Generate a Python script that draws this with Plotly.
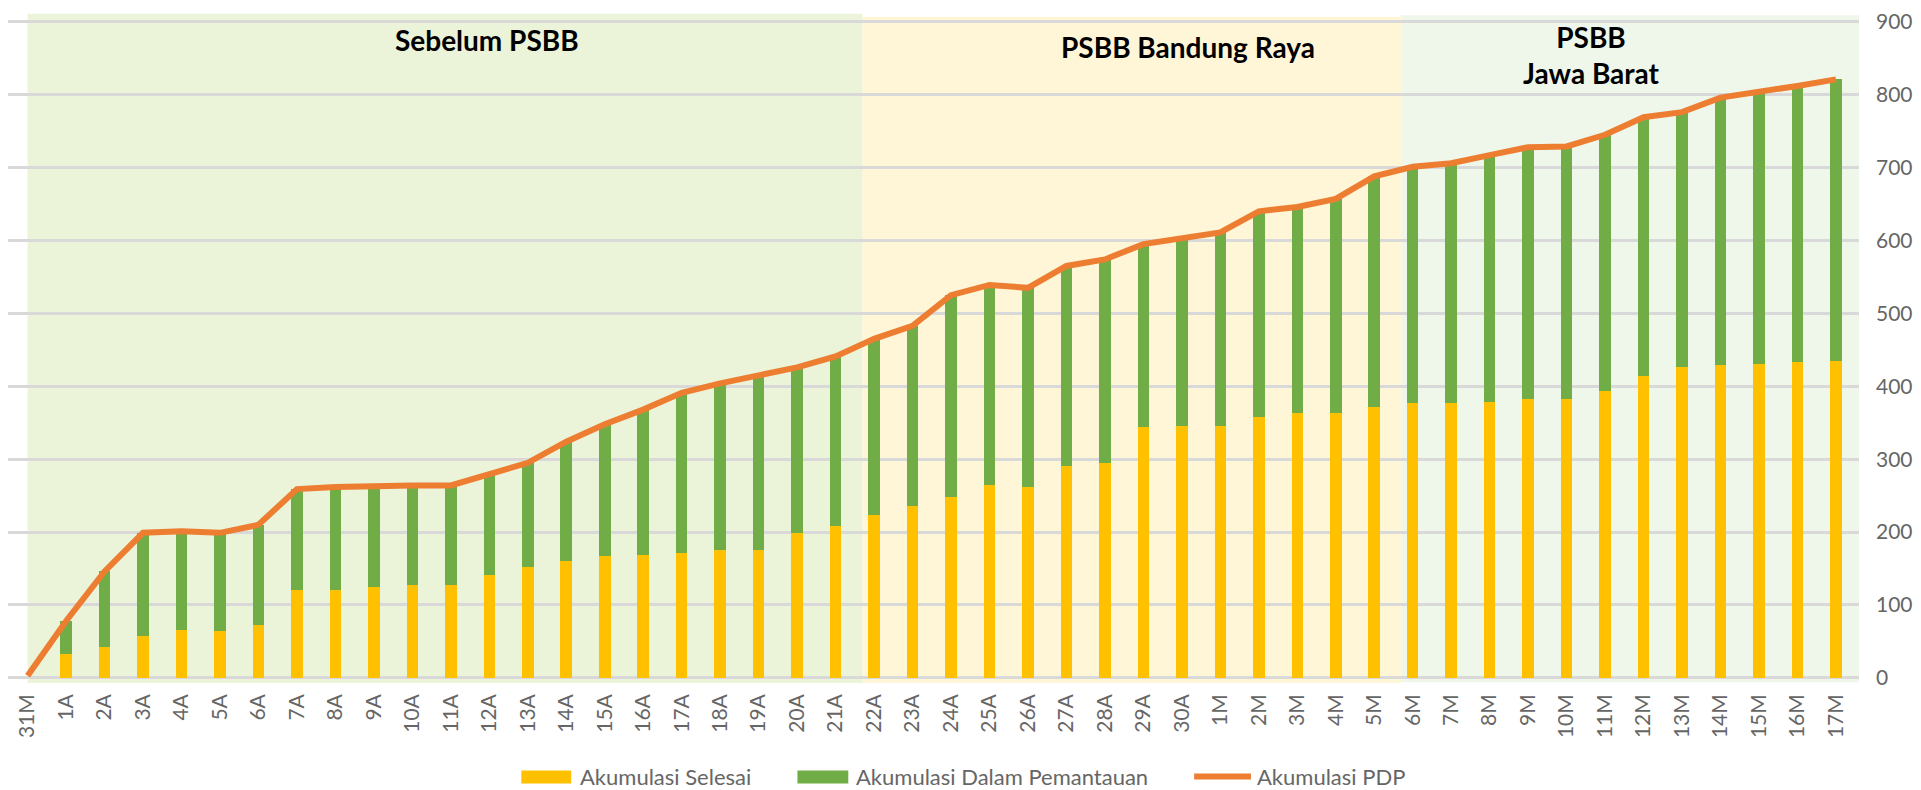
import plotly.graph_objects as go

categories = ["31M"] + [f"{d}A" for d in range(1, 31)] + [f"{d}M" for d in range(1, 18)]

selesai = [0, 33, 42, 57, 66, 64, 73, 120, 120, 124, 127, 127, 141, 152, 160, 167, 169,
           172, 176, 176, 199, 209, 223, 236, 248, 265, 262, 291, 295, 344, 346,
           346, 358, 363, 363, 372, 377, 377, 379, 383, 383, 393, 414, 426, 429, 431, 433, 435]

dalam = [0, 45, 104, 142, 135, 135, 137, 139, 142, 140, 137, 137, 139, 143, 164, 181, 199,
         219, 228, 239, 227, 232, 242, 247, 277, 274, 273, 274, 279, 251, 256,
         265, 282, 283, 294, 316, 324, 329, 338, 345, 346, 352, 355, 350, 367, 372, 379, 386]

pdp = [3, 78, 146, 199, 201, 199, 210, 259, 262, 264, 264, 264, 280, 295, 324, 348, 368,
       391, 404, 415, 426, 441, 465, 483, 525, 539, 535, 565, 574, 595, 602,
       611, 640, 646, 657, 688, 701, 706, 717, 728, 729, 745, 769, 776, 796, 803, 812, 821]

series_names = ["Akumulasi Selesai", "Akumulasi Dalam Pemantauan", "Akumulasi PDP"]
phase_labels = ["Sebelum PSBB", "PSBB Bandung Raya", "PSBB<br>Jawa Barat"]
phase_bounds = [(0, 21.7), (21.7, 35.7), (35.7, 47.6)]
y_ticks = [0, 100, 200, 300, 400, 500, 600, 700, 800, 900]

YELLOW = "#FFC000"
GREEN = "#70AD47"
ORANGE = "#ED7D31"
FONT = "Lato"
AXIS_COLOR = "#666666"

W, H = 1921, 790
L, R, T, B = 8, 56, 9, 107

fig = go.Figure()
fig.add_trace(go.Bar(x=categories, y=selesai, name=series_names[0], marker_color=YELLOW,
                     marker_line_width=0, width=0.3))
fig.add_trace(go.Bar(x=categories, y=dalam, name=series_names[1], marker_color=GREEN,
                     marker_line_width=0, width=0.3))
fig.add_trace(go.Scatter(x=categories, y=pdp, name=series_names[2], mode="lines",
                         line=dict(color=ORANGE, width=6)))

band_colors = ["#EBF3D8", "#FFF5D7", "#EFF7EA"]
band_tops = [911, 907, 909]
band_bottoms = [-7, -7, -6]
shapes = []
for (x0, x1), c, yt, yb in zip(phase_bounds, band_colors, band_tops, band_bottoms):
    shapes.append(dict(type="rect", xref="x", yref="y", x0=x0, x1=x1, y0=yb, y1=yt,
                       fillcolor=c, line_width=0, layer="below"))

annotations = []
label_pos = [(11.94, 875), (30.16, 865), (40.65, 855)]
for txt, (ax, ay) in zip(phase_labels, label_pos):
    annotations.append(dict(x=ax, y=ay, xref="x", yref="y", text=f"<b>{txt}</b>",
                            showarrow=False, font=dict(family=FONT, size=28, color="#000000"),
                            xanchor="center", yanchor="middle"))

# manual legend (pixel positions converted to paper coords)
def px_x(p):
    return (p - L) / (W - L - R)

def px_y(p):
    return (H - B - p) / (H - T - B)

leg_y = 777
legend_items = [(523, 573, 580, "rect", YELLOW), (800, 851, 857, "rect", GREEN),
                (1198, 1255, 1259, "line", ORANGE)]
for (x0, x1, tx, kind, col), name in zip(legend_items, series_names):
    if kind == "rect":
        shapes.append(dict(type="rect", xref="paper", yref="paper", x0=px_x(x0), x1=px_x(x1),
                           y0=px_y(784), y1=px_y(771), fillcolor=col, line_width=0))
    else:
        shapes.append(dict(type="line", xref="paper", yref="paper", x0=px_x(x0), x1=px_x(x1),
                           y0=px_y(leg_y), y1=px_y(leg_y), line=dict(color=col, width=6)))
    annotations.append(dict(x=px_x(tx), y=px_y(leg_y), xref="paper", yref="paper", text=name,
                            showarrow=False, xanchor="left", yanchor="middle",
                            font=dict(family=FONT, size=22, color=AXIS_COLOR)))

fig.update_layout(
    width=W, height=H,
    margin=dict(l=L, r=R, t=T, b=B, pad=0),
    barmode="stack",
    showlegend=False,
    paper_bgcolor="white",
    plot_bgcolor="white",
    font=dict(family=FONT, size=21, color=AXIS_COLOR),
    shapes=shapes,
    annotations=annotations,
    xaxis=dict(type="category", range=[-0.51, 47.6], tickangle=-90, showgrid=False,
               showline=False, ticks="", tickfont=dict(family=FONT, size=21, color=AXIS_COLOR),
               ticklabelstandoff=6, fixedrange=True),
    yaxis=dict(range=[-7, 912], side="right", tickvals=y_ticks, showgrid=True,
               gridcolor="#D9D9D9", gridwidth=2.5, zeroline=False, showline=False, ticks="",
               tickfont=dict(family=FONT, size=21, color=AXIS_COLOR), ticklabelstandoff=16,
               fixedrange=True),
)

fig.write_html("out.html", config={"displayModeBar": False},
               post_script="document.body.style.margin='0';document.body.style.overflow='hidden';")
